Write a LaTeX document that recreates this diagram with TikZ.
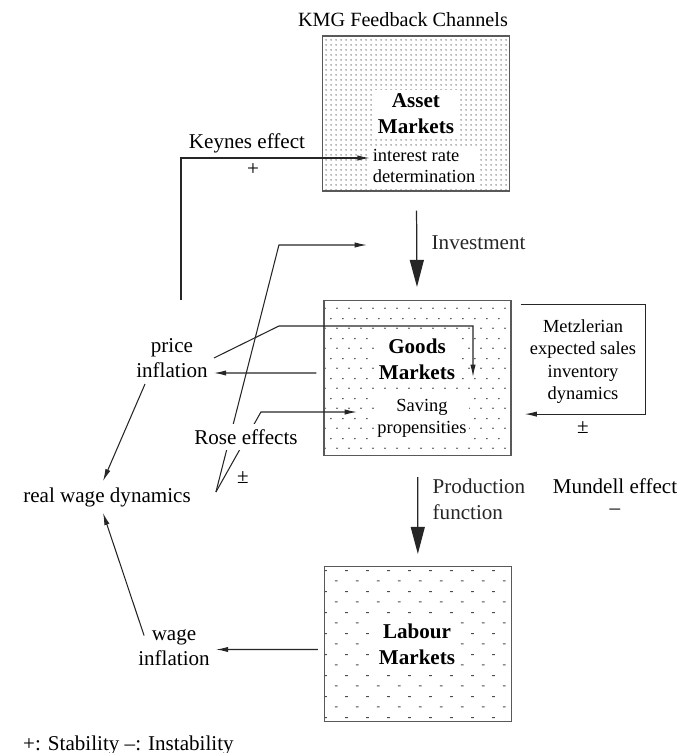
\documentclass[tikz,border=0pt]{standalone}
\usepackage{fontspec}
\setmainfont{Liberation Serif}
\usetikzlibrary{arrows.meta,patterns,positioning}

\pgfdeclarepatternformonly{assetdots}{\pgfpointorigin}{\pgfpoint{2.6pt}{2.6pt}}{\pgfpoint{2.6pt}{2.6pt}}{%
	\pgfpathcircle{\pgfpoint{1.3pt}{1.3pt}}{0.5pt}%
	\pgfusepath{fill}}
\pgfdeclarepatternformonly{goodsdots}{\pgfpointorigin}{\pgfpoint{6.8pt}{11.4pt}}{\pgfpoint{6.8pt}{11.4pt}}{%
	\pgfpathcircle{\pgfpoint{1.7pt}{2.85pt}}{0.5pt}%
	\pgfpathcircle{\pgfpoint{5.1pt}{8.55pt}}{0.5pt}%
	\pgfusepath{fill}}
\pgfdeclarepatternformonly{labourdashes}{\pgfpointorigin}{\pgfpoint{11.8pt}{11.8pt}}{\pgfpoint{11.8pt}{11.8pt}}{%
	\pgfsetlinewidth{0.6pt}%
	\pgfpathmoveto{\pgfpoint{2.2pt}{2.9pt}}\pgfpathlineto{\pgfpoint{3.8pt}{2.9pt}}%
	\pgfpathmoveto{\pgfpoint{8.1pt}{8.8pt}}\pgfpathlineto{\pgfpoint{9.7pt}{8.8pt}}%
	\pgfusepath{stroke}}

\tikzset{
	marketbox/.style={draw=black!65,line width=0.7pt,minimum width=3.74cm,minimum height=3.1cm,pattern color=black!70},
	markettitle/.style={fill=white,align=center,inner sep=2pt,font=\fontsize{12}{15}\selectfont\bfseries},
	subtext/.style={fill=white,inner sep=1.5pt,font=\fontsize{10.5}{12.5}\selectfont},
	words/.style={align=center},
	link/.style={-{Latex[length=7pt,width=3pt]},line width=0.6pt,black!85},
	flow/.style={-{Triangle[length=0.54cm,width=0.28cm]},line width=0.7pt,black!85}
}

\begin{document}
\begin{tikzpicture}[x=0.02cm,y=0.02cm,font=\fontsize{12}{14.5}\selectfont]
				\useasboundingbox (0,0) rectangle (681,-753);

				\node[marketbox,pattern=assetdots,pattern color=black!55] (asset) at (416,-113.5) {};
				\node[markettitle] (assetname) at (416,-113.5) {Asset\\Markets};
				\node[subtext,align=left] (rate) at (424,-166) {interest rate\\determination};
				\node[font=\fontsize{11.5}{14}\selectfont] (title) [above of=asset,node distance=1.87cm,xshift=-0.26cm] {KMG Feedback Channels};

				\node[marketbox,pattern=goodsdots] (goods) at (417.5,-378) {};
				\node[markettitle] (goodsname) at (417,-359.5) {Goods\\Markets};
				\node[subtext,align=center] (saving) at (422,-418.5) {Saving\\propensities};

				\node[marketbox,pattern=labourdashes] (labour) at (418,-644) {};
				\node[markettitle] (labourname) at (417,-644) {Labour\\Markets};

				\node (keynes) at (247,-143) {Keynes effect};
				\node (keyplus) [below of=keynes,node distance=0.54cm,xshift=0.12cm] {+};
				\node[words] (price) at (172,-358) {price\\inflation};
				\node (rwd) at (107,-497) {real wage dynamics};
				\node[words] (wage) at (174,-647.5) {wage\\inflation};
				\node[words,font=\fontsize{10.5}{12.8}\selectfont] (metz) at (583,-361.5) {Metzlerian\\expected sales\\inventory\\dynamics};
				\node (metzpm) [below of=metz,node distance=1.33cm] {±};
				\node (mundell) at (615,-486) {Mundell effect};
				\node (mundminus) [below of=mundell,node distance=0.52cm] {–};
				\node[anchor=west] (legend) at (17,-745) {+: Stability –: Instability};

				\coordinate (keynesfoot) at (181,-300);
				\coordinate (goodsin) at (473,-377);
				\coordinate (rosefoot) at ([shift={(19,5)}]rwd.east);
				\coordinate (investin) at (367,-245);
				\coordinate (savingin) at (357,-412);

				\draw[flow,shorten <=0.38cm,shorten >=0.26cm] (asset) -- node[right,xshift=0.17cm,yshift=0.06cm] (invest) {Investment} (goods);
				\draw[flow,shorten <=0.42cm,shorten >=0.24cm] (goods) -- node[right,xshift=0.17cm,yshift=0.23cm,align=left] (prod) {Production\\function} (labour);

				\draw[link] (keynesfoot) |- ([yshift=0.16cm]rate.west);
				\draw[link] ([xshift=-0.14cm,yshift=0.1cm]goods.west) -- ([yshift=-0.3cm]price.east);
				\draw[link] (price.east) -- ++(65,32) -| (goodsin);
				\draw[link] ([xshift=-0.12cm,yshift=-0.11cm]labour.west) -- ([yshift=-0.04cm]wage.east);
				\draw[link] ([xshift=-0.54cm]price.south) -- ([xshift=-0.08cm]rwd.north);
				\draw[link] ([shift={(12,12)}]wage.west) -- ([xshift=-0.08cm]rwd.south);
				\draw[link] ([shift={(9,-5)}]goods.north east) -- ++(125,0) |- ([shift={(13,42)}]goods.south east);
				\draw[link] (rosefoot) -- ++(63,247) -- (investin);
				\draw[link] (rosefoot) -- ++(45,80) -- (savingin);

				\node[fill=white,inner xsep=1pt,inner ysep=3pt] (rose) at (246,-437) {Rose effects};
				\node (rosepm) [below of=rose,node distance=0.82cm,xshift=-0.06cm] {±};
			\end{tikzpicture}
\end{document}
